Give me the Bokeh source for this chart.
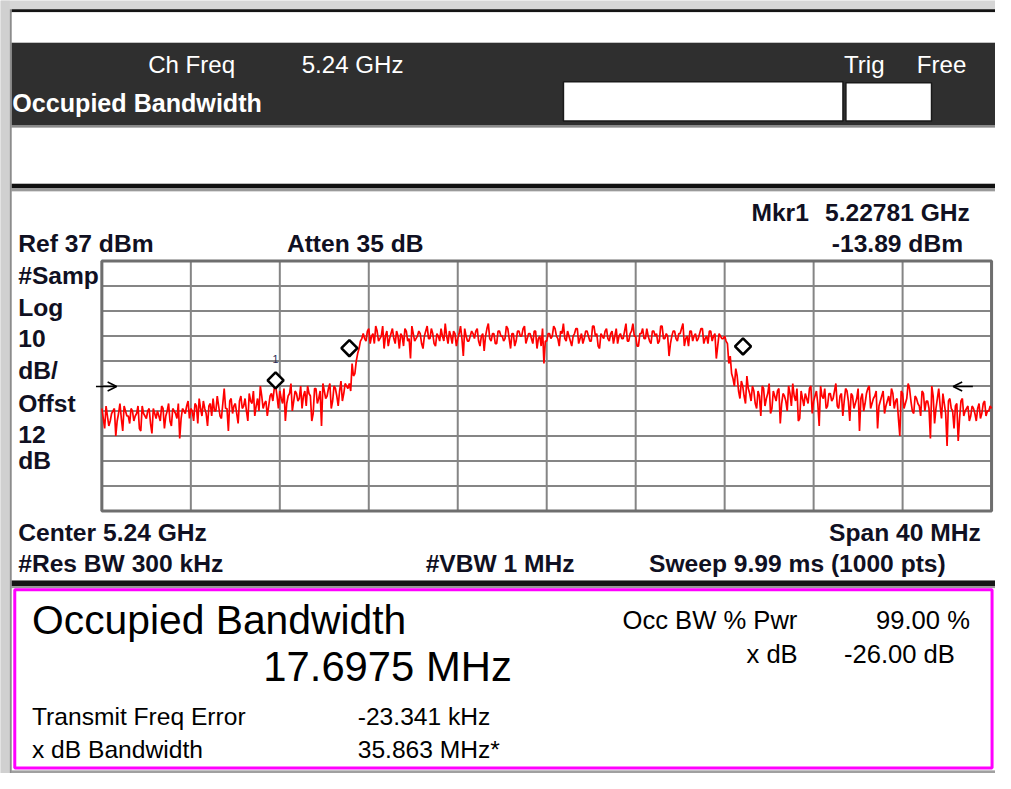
import math
from bokeh.plotting import figure
from bokeh.models import Range1d, Arrow, OpenHead, ColumnDataSource
from bokeh.transform import dodge
from bokeh.core.properties import value
from bokeh.embed import file_html
from bokeh.resources import INLINE

start_mhz = 5220.0
stop_mhz = 5260.0
step_mhz = 0.0625
ref_dbm = 37.0
db_per_div = 10.0
n_div = 10

# trace samples at 5220.000, 5220.125, ... (every 0.125 MHz)
trace_dbm_a = [
    # lower skirt
    -22, -30, -25, -27, -23, -33, -24, -26, -21, -25,
    -28, -23, -25, -21, -31, -24, -26, -22, -32, -24,
    -23, -27, -22, -25, -20, -29, -23, -26, -34, -22,
    -24, -19, -22, -27, -21, -18, -25, -22, -29, -20,
    -18, -23, -21, -26, -14, -22, -19, -24, -20, -28,
    -17, -21, -23, -16, -20, -25, -18, -13, -22, -19,
    -21, -16, -14, -17, -15, -20, -27, -17, -12, -19,
    -16, -18, -22, -15, -13, -17, -24, -14, -18, -29,
    -15, -17, -12, -19, -14, -21, -11, -16, -13,
    # rising edge
    -12, -4, -8, 0, 5,
    # channel
    8, 5, 10, 7, 4, 9, 6, 11, 7, 3,
    8, 6, 9, 2, 7, 10, 5, -2, 8, 6,
    9, 4, 7, 11, 6, 8, 3, 7, 10, 5,
    7, 9, 4, 8, 6, 11, -1, 7, 5, 9,
    6, 10, 3, 8, 7, 12, 5, 8, 4, 9,
    7, 6, 10, 2, 8, 5, 9, 7, 11, 6,
    8, 4, 9, 6, 3, -4, 5, 8, 7, 10,
    6, 9, 12, 5, 7, 3, 8, 10, 6, 4,
    9, 7, 5, 11, 8, 2, 7, 9, 6, 8,
    4, 10, 7, 6, 9, 5, 8, 12, 7, 3,
    8, 6, 10, 5, 9, 7, 4, 11, 6, 8,
    -1, 7, 9, 5, 8, 12, 6, 3, 9, 7,
    5, 8, 10, 6, 4, 9, 7, -2, 8, 6,
    7,
    # falling edge
    4, -1, -10, -6, -15, -11, -17, -9,
    # upper skirt
    -16, -13, -20, -15, -25, -14, -18, -12, -22, -17,
    -15, -28, -16, -19, -13, -21, -17, -14, -26, -18,
    -16, -20, -13, -19, -15, -29, -17, -14, -21, -16,
    -18, -12, -22, -16, -19, -15, -27, -17, -20, -14,
    -18, -23, -16, -13, -20, -17, -30, -19, -15, -21,
    -17, -14, -22, -18, -33, -16, -20, -12, -19, -24,
    -18, -21, -15, -23, -19, -34, -17, -22, -14, -26,
    -20, -37, -18, -23, -21, -35, -19, -25, -22, -27,
    -21, -24, -22, -26, -20, -25, -23, -22,
]

# trace samples at 5220.0625, 5220.1875, ... (in between the ones above)
trace_dbm_b = [
    # lower skirt
    -26, -21, -29, -24, -22, -27, -20, -31, -23, -25,
    -22, -27, -24, -30, -21, -25, -23, -28, -22, -26,
    -25, -21, -30, -23, -27, -22, -24, -20, -26, -23,
    -21, -26, -23, -20, -28, -22, -19, -24, -21, -25,
    -23, -17, -25, -20, -22, -31, -18, -21, -24, -19,
    -22, -18, -27, -19, -15, -21, -23, -17, -20, -25,
    -17, -19, -13, -22, -18, -14, -20, -16, -23, -15,
    -19, -13, -17, -21, -16, -27, -14, -20, -15, -12,
    -18, -14, -22, -13, -17, -15, -19, -12,
    -14,
    # rising edge
    -15, -9, -3, 2,
    6,
    # channel
    6, 9, 4, 8, 11, 5, 7, 2, 9, 6,
    10, 4, 7, 8, 3, 9, 6, 11, 5, 7,
    8, 2, 9, 6, 10, 4, 8, 5, 7, 12,
    4, 7, 9, 3, 8, 6, 10, 5, 7, 8,
    9, 5, 7, 1, 10, 6, 8, 4, 9, 7,
    5, 11, 6, 8, 3, 9, 7, 10, 4, 8,
    6, 9, 2, 7, 10, 5, 8, 6, 11, 7,
    3, 8, 6, 9, 5, 7, 10, 4, 8, 6,
    9, 5, 11, 7, 3, 8, 6, 10, 5, 9,
    7, 4, 8, 6, 12, 5, 9, 7, 3, 8,
    10, 6, 7, 4, 9, 8, 5, 11, 6, 7,
    4, 9, 6, 8, 10, 3, 7, 9, 5, 8,
    6, 10, 4, 7, 9, 5, 8, 3, 7, 6,
    5,
    # falling edge
    -4, -8, -13, -9, -18, -13, -20,
    -14,
    # upper skirt
    -19, -15, -22, -17, -13, -21, -16, -24, -15, -19,
    -14, -20, -17, -23, -16, -12, -19, -27, -15, -21,
    -18, -14, -24, -17, -20, -13, -18, -22, -16, -19,
    -15, -21, -17, -25, -14, -19, -16, -22, -18, -31,
    -16, -20, -14, -22, -18, -15, -21, -17, -24, -19,
    -21, -16, -19, -26, -15, -22, -18, -14, -23, -17,
    -20, -25, -16, -19, -22, -13, -28, -18, -21, -16,
    -24, -19, -22, -30, -20, -26, -18, -23, -21, -25,
    -22, -27, -20, -24, -19, -23, -21,
]

trace_dbm = []
for i, v in enumerate(trace_dbm_a):
    trace_dbm.append(v)
    if i < len(trace_dbm_b):
        trace_dbm.append(trace_dbm_b[i])
freq_mhz = [start_mhz + i * step_mhz for i in range(len(trace_dbm))]

mkr_freq = [5227.81]
mkr_dbm = [-13.89]
obw_freq = [5231.128, 5248.825]
obw_dbm = [-1.0, -0.3]
xdb_level = -13.2

grid_freq = [start_mhz + (stop_mhz - start_mhz) * j / n_div for j in range(n_div + 1)]
grid_dbm = [ref_dbm - db_per_div * j for j in range(n_div + 1)]
bottom_dbm = ref_dbm - db_per_div * n_div

# ---------------- page geometry (reference pixels) ----------------
W, H = 1011, 789
FW, FH = 995, 773
S = FW / W
FONT = "Liberation Sans"

# spectrum box in page pixels
bx0, bx1, by0, by1 = 103.0, 1007.0, 266.0, 521.0
kx = (stop_mhz - start_mhz) / (bx1 - bx0)
ky = (db_per_div * n_div) / (by1 - by0)

p = figure(width=FW, height=FH, x_range=Range1d(0, W), y_range=Range1d(H, 0),
           output_backend="svg", toolbar_location=None,
           x_axis_location=None, y_axis_location=None,
           min_border=0, min_border_left=0, min_border_right=0,
           min_border_top=0, min_border_bottom=0)
p.grid.visible = False
p.outline_line_color = None
p.background_fill_color = "#d6d6d6"
p.border_fill_color = "#d6d6d6"

p.extra_x_ranges = {"freq": Range1d(start_mhz - bx0 * kx, stop_mhz + (W - bx1) * kx)}
p.extra_y_ranges = {"dbm": Range1d(bottom_dbm - (H - by1) * ky, ref_dbm + by0 * ky)}


def box(l, r, t, b, fill, line=None, lw=1):
    p.quad(left=[l], right=[r], top=[t], bottom=[b], fill_color=fill,
           line_color=line, line_width=lw)


# ---- window chrome ----
box(0, 9.5, 0, H, "#d0d0d0")
box(9.5, 11.5, 9, H, "#8c8c8c")
box(11.5, W, 9, 12, "#141414")
box(11.5, W, 12, 43, "#ffffff")
box(11.5, W, 43, 127, "#2f2f2f")
box(11.5, W, 127, 130, "#8a8a8a")
box(572, 856, 83, 123, "#ffffff", "#1a1a1a", 1.5)
box(859, 946, 84, 123, "#ffffff", "#1a1a1a", 1.5)
box(11.5, W, 130, 187, "#ffffff")
box(11.5, W, 187, 191.5, "#111111")
box(11.5, W, 191.5, 195, "#9a9a9a")
box(11.5, W, 195, 592, "#ffffff")
box(11.5, W, 592, 597.5, "#151515")
box(11.5, W, 597.5, 600, "#9a9a9a")
box(11.5, W, 600, 786, "#ffffff")
box(14.5, 1007.5, 601.5, 783.5, "#ffffff", "#ff00ff", 3)
box(11.5, W, 786, H, "#a0a0a0")

# ---- graticule ----
p.segment(x0=grid_freq, x1=grid_freq, y0=[bottom_dbm] * len(grid_freq),
          y1=[ref_dbm] * len(grid_freq), line_color="#858585", line_width=2,
          x_range_name="freq", y_range_name="dbm")
p.segment(x0=[start_mhz] * len(grid_dbm), x1=[stop_mhz] * len(grid_dbm),
          y0=grid_dbm, y1=grid_dbm, line_color="#858585", line_width=2,
          x_range_name="freq", y_range_name="dbm")
p.quad(left=[start_mhz], right=[stop_mhz], top=[ref_dbm], bottom=[bottom_dbm],
       fill_color=None, line_color="#6e6e6e", line_width=3,
       x_range_name="freq", y_range_name="dbm")

# ---- trace ----
p.line(freq_mhz, trace_dbm, line_color="#ff0000", line_width=1.7,
       x_range_name="freq", y_range_name="dbm")

# ---- markers (diamond drawn with its lower tip on the marker point) ----
msrc = ColumnDataSource(dict(f=mkr_freq + obw_freq, lvl=mkr_dbm + obw_dbm))
p.scatter(x="f", y=dodge("lvl", 8 * ky), source=msrc, marker="square",
          angle=math.pi / 4, size=11.5 * S, fill_color="#ffffff",
          line_color="#000000", line_width=2.6,
          x_range_name="freq", y_range_name="dbm")
p.text(mkr_freq, mkr_dbm, text=["1"], y_offset=-30 * S, text_align="center",
       text_baseline="middle", text_font=value(FONT), text_font_size=value(f"{11*S:.1f}px"),
       text_color="#2a2a55", x_range_name="freq", y_range_name="dbm")

# x dB level arrows
p.add_layout(Arrow(x_start=start_mhz - 6 * kx, x_end=start_mhz + 15 * kx,
                   y_start=xdb_level, y_end=xdb_level, line_width=1.5, line_color="#000000",
                   end=OpenHead(size=9, line_width=1.5, line_color="#000000"),
                   x_range_name="freq", y_range_name="dbm"))
p.add_layout(Arrow(x_start=stop_mhz - 19 * kx, x_end=stop_mhz - 39 * kx,
                   y_start=xdb_level, y_end=xdb_level, line_width=1.5, line_color="#000000",
                   end=OpenHead(size=9, line_width=1.5, line_color="#000000"),
                   x_range_name="freq", y_range_name="dbm"))


def txt(x, y, s, size, color, bold=False, align="left"):
    p.text(x=[x], y=[y], text=[s], text_font=value(FONT),
           text_font_size=value(f"{size * S:.1f}px"), text_color=color,
           text_font_style="bold" if bold else "normal",
           text_align=align, text_baseline="middle")


# ---- header texts ----
WH = "#ffffff"
txt(150, 65, "Ch Freq", 24.5, WH)
txt(306, 65, "5.24 GHz", 24.5, WH)
txt(857, 65, "Trig", 24.5, WH)
txt(931, 65, "Free", 24.5, WH)
txt(12, 105, "Occupied Bandwidth", 25.5, WH, bold=True)

# ---- analyzer annotations ----
DK = "#101022"
FS = 25
txt(763, 216, "Mkr1", FS, DK, True)
txt(985, 216, "5.22781 GHz", FS, DK, True, "right")
txt(18, 248, "Ref 37 dBm", FS, DK, True)
txt(291, 248, "Atten 35 dB", FS, DK, True)
txt(978, 248, "-13.89 dBm", FS, DK, True, "right")
for yy, s in zip([281, 313, 345, 378, 411, 443, 470],
                 ["#Samp", "Log", "10", "dB/", "Offst", "12", "dB"]):
    txt(18, yy, s, FS, DK, True)
txt(18, 543, "Center 5.24 GHz", FS, DK, True)
txt(996, 543, "Span 40 MHz", FS, DK, True, "right")
txt(18, 575, "#Res BW 300 kHz", FS, DK, True)
txt(432, 575, "#VBW 1 MHz", FS, DK, True)
txt(659, 575, "Sweep 9.99 ms (1000 pts)", FS, DK, True)

# ---- result panel ----
BK = "#000000"
txt(32, 632, "Occupied Bandwidth", 41.5, BK)
txt(267, 680, "17.6975 MHz", 42.5, BK)
txt(632, 632, "Occ BW % Pwr", 26, BK)
txt(985, 632, "99.00 %", 26, BK, align="right")
txt(810, 667, "x dB", 26, BK, align="right")
txt(857, 667, "-26.00 dB", 26, BK)
txt(32, 731, "Transmit Freq Error", 25, BK)
txt(363, 731, "-23.341 kHz", 25, BK)
txt(32, 764, "x dB Bandwidth", 25, BK)
txt(363, 764, "35.863 MHz*", 25, BK)

open("out.html", "w").write(file_html(p, INLINE))
